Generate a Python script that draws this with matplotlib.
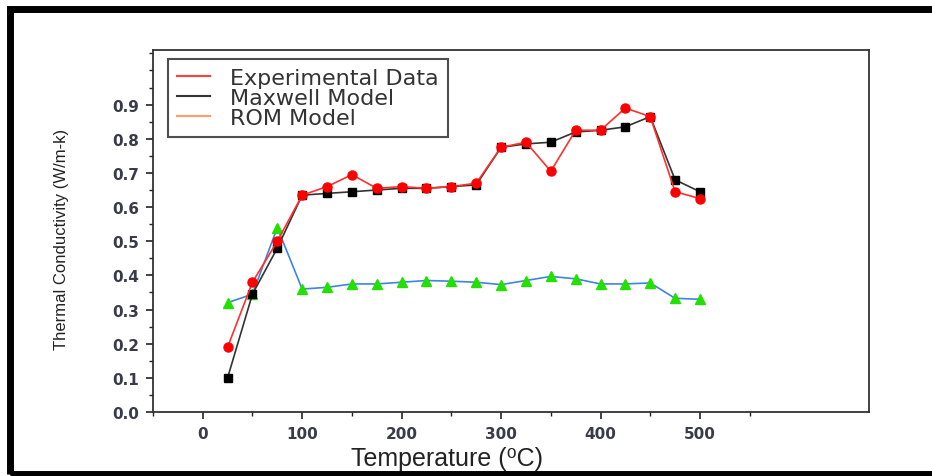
import matplotlib
matplotlib.use("Agg")
from matplotlib import pyplot as plt
from matplotlib.ticker import MultipleLocator, FixedLocator
from matplotlib.lines import Line2D
from matplotlib.patches import Rectangle

plt.rcParams['font.family'] = ['Liberation Sans', 'DejaVu Sans']

temperature = [25, 50, 75, 100, 125, 150, 175, 200, 225, 250,
               275, 300, 325, 350, 375, 400, 425, 450, 475, 500]
experimental = [0.19, 0.38, 0.50, 0.635, 0.66, 0.695, 0.655, 0.66, 0.655, 0.66,
                0.67, 0.775, 0.79, 0.705, 0.825, 0.825, 0.89, 0.865, 0.645, 0.625]
maxwell = [0.10, 0.345, 0.48, 0.635, 0.64, 0.645, 0.65, 0.655, 0.655, 0.66,
           0.665, 0.775, 0.785, 0.79, 0.82, 0.825, 0.835, 0.865, 0.68, 0.645]
rom = [0.32, 0.345, 0.54, 0.36, 0.365, 0.375, 0.375, 0.38, 0.385, 0.383,
       0.38, 0.373, 0.385, 0.397, 0.39, 0.375, 0.375, 0.378, 0.333, 0.33]

x_ticks = [0, 100, 200, 300, 400, 500]
y_ticks = [0.0, 0.1, 0.2, 0.3, 0.4, 0.5, 0.6, 0.7, 0.8, 0.9]

fig = plt.figure(figsize=(9.32, 4.77), dpi=100)
ax = fig.add_axes([153 / 932, 1 - 413 / 477, (869 - 153) / 932, (413 - 51) / 477])

ax.plot(temperature, rom, color="#3d85e0", lw=1.2, marker="^", ms=7,
        mfc="#22e000", mec="#22e000", zorder=2)
ax.plot(temperature, maxwell, color="#333333", lw=1.2, marker="s", ms=6,
        mfc="black", mec="black", zorder=3)
ax.plot(temperature, experimental, color="#ff3030", lw=1.2, marker="o", ms=6.5,
        mfc="#ff0000", mec="#ff0000", zorder=4)

ax.set_xlim(-50, 670)
ax.set_ylim(0, 1.06)
ax.xaxis.set_major_locator(FixedLocator(x_ticks))
ax.xaxis.set_minor_locator(FixedLocator([-50, 50, 150, 250, 350, 450, 550]))
ax.yaxis.set_major_locator(FixedLocator(y_ticks))
ax.yaxis.set_minor_locator(MultipleLocator(0.05))
ax.set_xticklabels([str(v) for v in x_ticks])
ax.set_yticklabels(["%.1f" % v for v in y_ticks])
ax.tick_params(which="major", direction="out", length=5, width=1.2, colors="#222222",
               labelcolor="#3a3a48", pad=5)
ax.tick_params(which="minor", direction="out", length=3, width=1, colors="#222222")
for lab in ax.get_xticklabels() + ax.get_yticklabels():
    lab.set_fontfamily("DejaVu Sans")
    lab.set_fontweight("bold")
    lab.set_fontsize(11)
for s in ax.spines.values():
    s.set_linewidth(1.3)
    s.set_color("#333333")

ax.set_xlabel("Temperature (\u2070C)", fontsize=18, color="#222222",
              family=["Liberation Sans", "DejaVu Sans"])
ax.xaxis.set_label_coords(0.41, -0.095)
ax.set_ylabel("Thermal Conductivity (W/m-k)", fontsize=12, color="#222222",
              family=["Liberation Sans", "DejaVu Sans"])
ax.yaxis.set_label_coords(-0.118, 0.48)

handles = [Line2D([], [], color="#ff4040", lw=1.5),
           Line2D([], [], color="#333333", lw=1.5),
           Line2D([], [], color="#ffa060", lw=1.5)]
leg = ax.legend(handles, ["Experimental Data", "Maxwell Model", "ROM Model"],
                loc="upper left", bbox_to_anchor=(0.021, 0.975), borderaxespad=0,
                prop={"family": "DejaVu Sans", "size": 16},
                frameon=True, fancybox=False, borderpad=0.4, labelspacing=0.0,
                handlelength=1.5, handletextpad=0.9)
leg.get_frame().set_edgecolor("#222222")
leg.get_frame().set_linewidth(1.5)
for t in leg.get_texts():
    t.set_color("#333333")

# black outer frame of the picture
fig.patches.append(Rectangle((10 / 932, 2.5 / 477), 1.2, 1 - 12.5 / 477,
                             transform=fig.transFigure, fill=False,
                             edgecolor="black", lw=5))

fig.savefig("out.png", dpi=100)
